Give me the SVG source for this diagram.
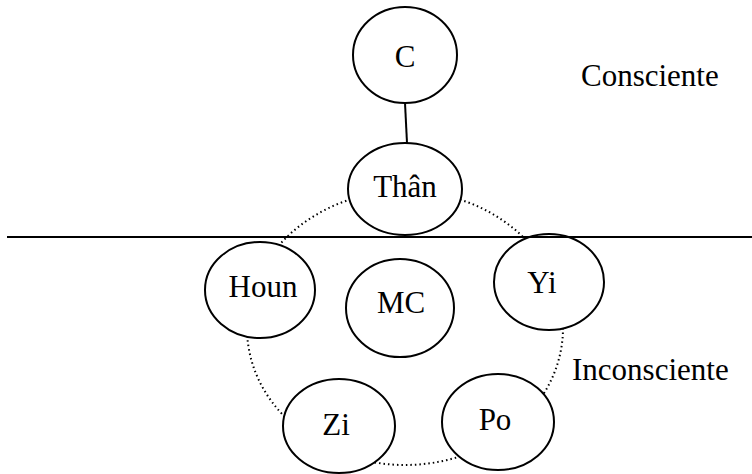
<svg xmlns="http://www.w3.org/2000/svg" width="752" height="474" viewBox="0 0 752 474">
<style>
.n{fill:#fff;stroke:#000;stroke-width:2}
.t{font-family:"Liberation Serif","Times New Roman",serif;font-size:31px;fill:#000;text-anchor:middle}
.l{font-family:"Liberation Serif","Times New Roman",serif;font-size:31px;fill:#000}
</style>
<rect width="752" height="474" fill="#fff"/>
<g id="connectors">
<ellipse cx="405" cy="328" rx="158" ry="137" fill="none" stroke="#000" stroke-width="2" stroke-dasharray="1.5 3"/>
<line x1="405" y1="103" x2="407" y2="143" stroke="#000" stroke-width="2"/>
</g>
<g id="node-C"><ellipse class="n" cx="405" cy="55" rx="52" ry="48"/><text class="t" x="405" y="67">C</text></g>
<g id="node-Than"><ellipse class="n" cx="405" cy="189" rx="57" ry="46"/><text class="t" x="405" y="197">Thân</text></g>
<g id="node-Houn"><ellipse class="n" cx="260" cy="290" rx="55" ry="48"/><text class="t" x="263" y="297">Houn</text></g>
<g id="node-MC"><ellipse class="n" cx="400" cy="308" rx="54" ry="49"/><text class="t" x="401" y="313">MC</text></g>
<g id="node-Yi"><ellipse class="n" cx="549" cy="282" rx="55" ry="48"/><text class="t" x="542" y="293">Yi</text></g>
<g id="node-Zi"><ellipse class="n" cx="339" cy="426" rx="56" ry="47"/><text class="t" x="336" y="435">Zi</text></g>
<g id="node-Po"><ellipse class="n" cx="498" cy="422" rx="56" ry="48"/><text class="t" x="495" y="430">Po</text></g>
<g id="divider"><line x1="7" y1="237" x2="752" y2="237" stroke="#000" stroke-width="2"/></g>
<text class="l" x="581" y="86">Consciente</text>
<text class="l" x="572" y="380">Inconsciente</text>
</svg>
